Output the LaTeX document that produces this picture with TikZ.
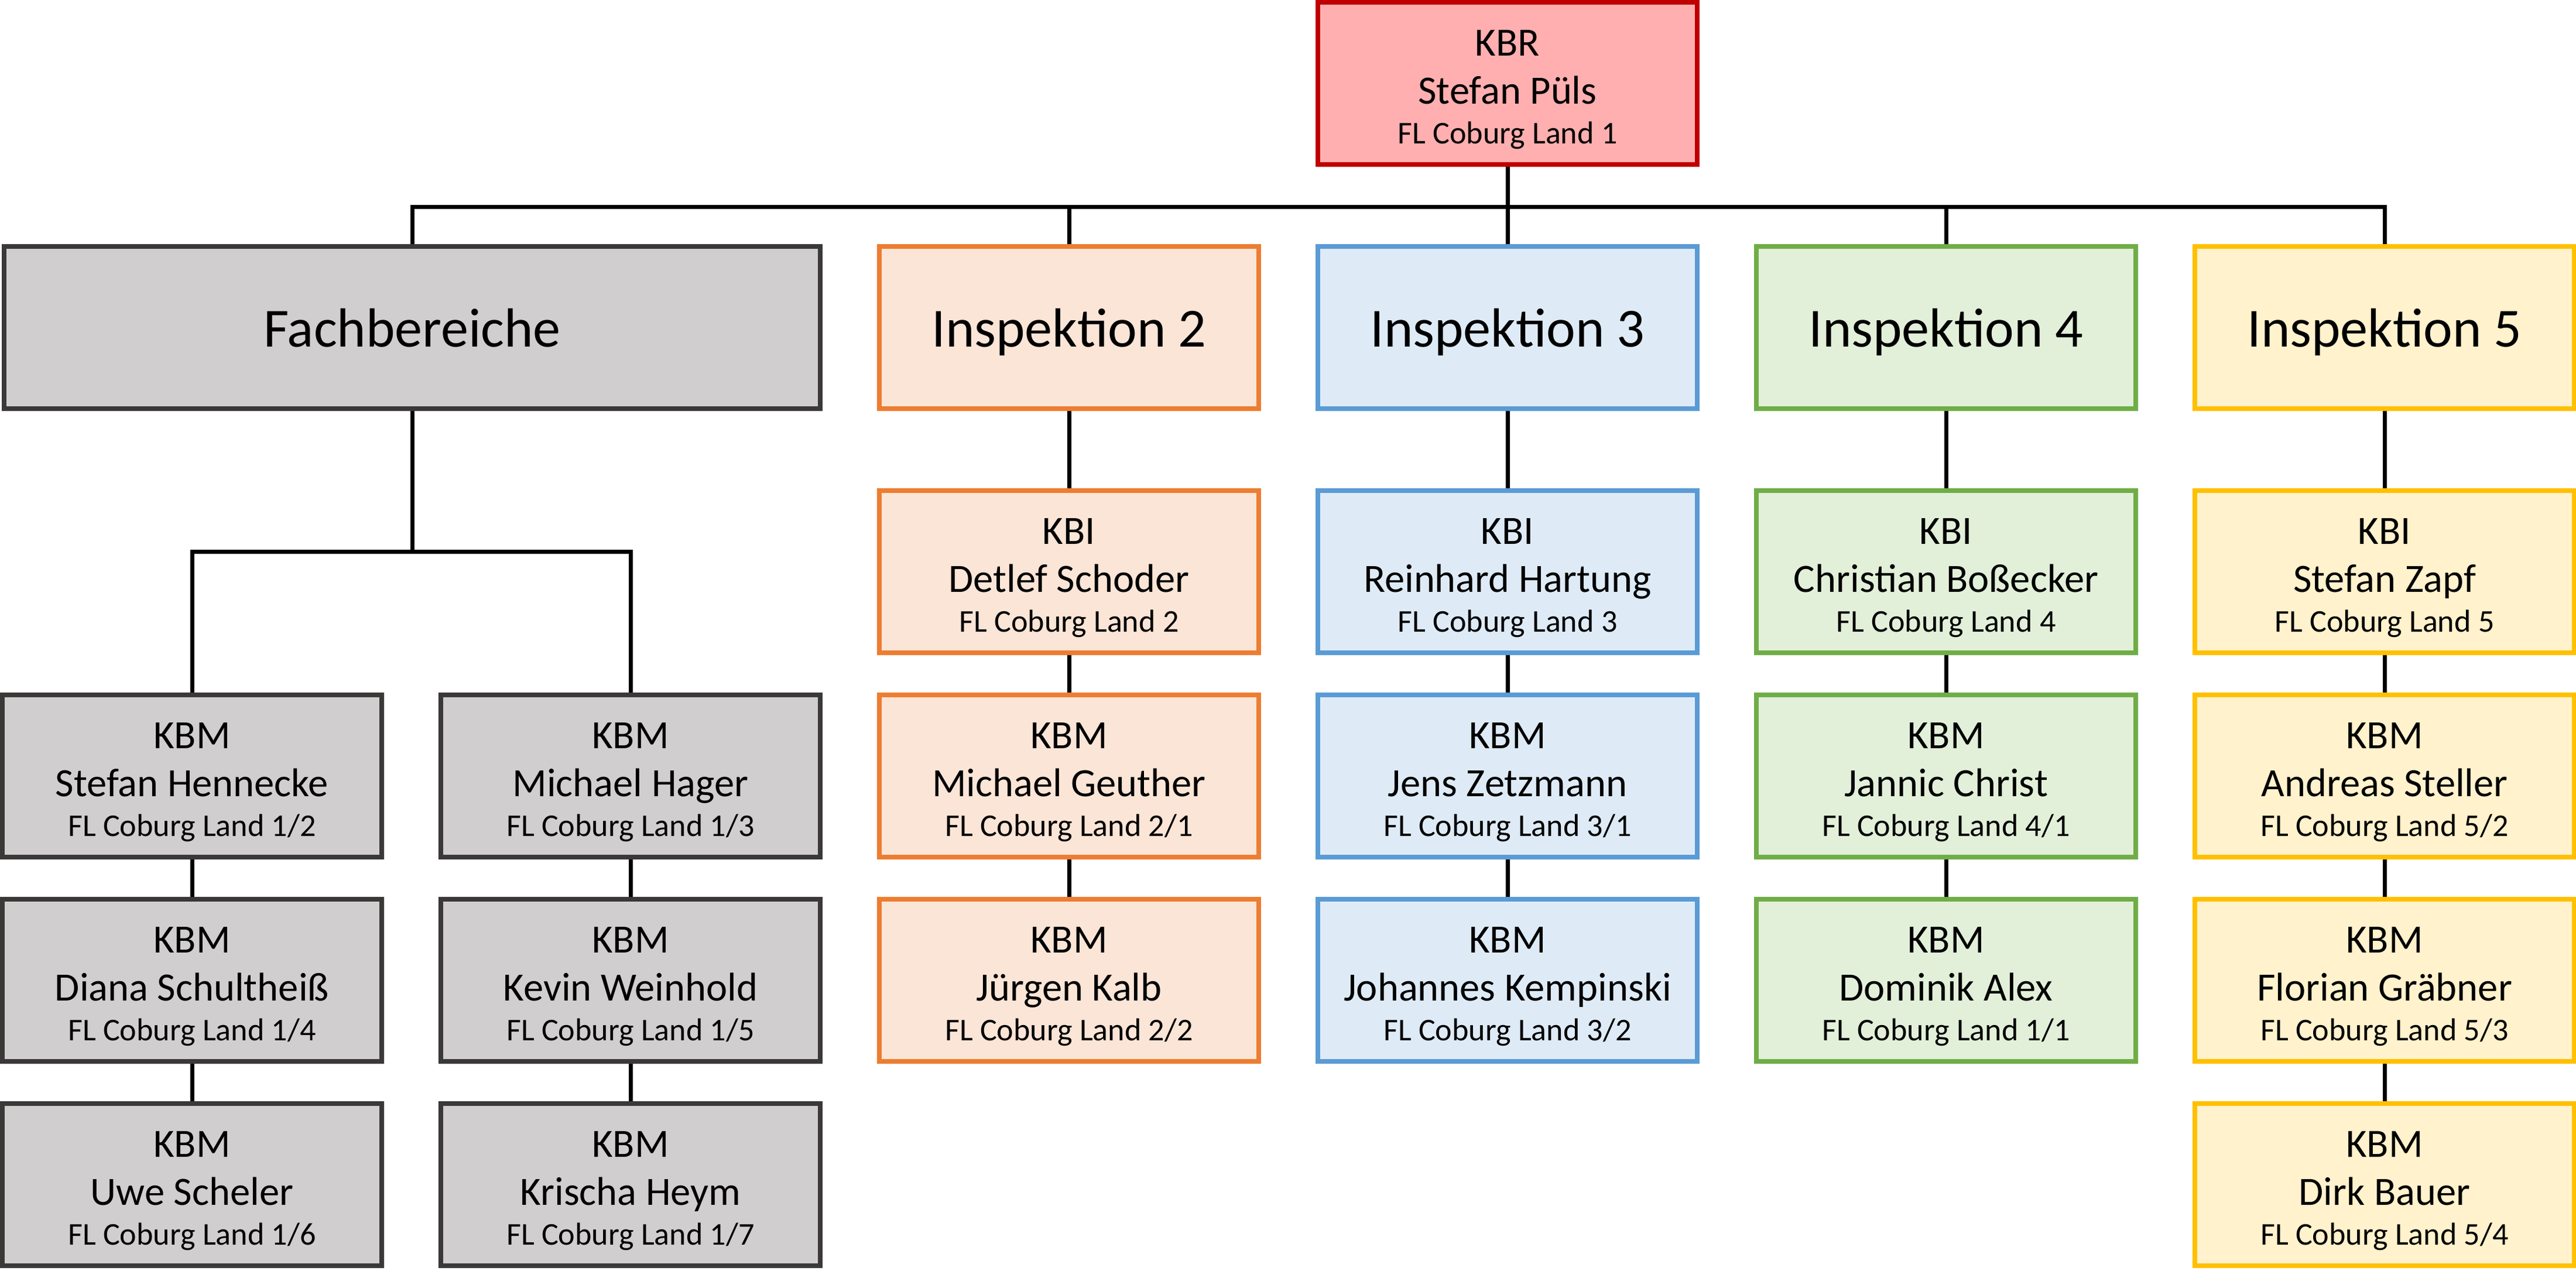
\documentclass[tikz,border=0pt]{standalone}
\usepackage{fontspec}
\setmainfont{Carlito}
\usepackage{tikz}
\usetikzlibrary{positioning, calc}
\definecolor{fachrand}{HTML}{3B3838}
\definecolor{fachfill}{HTML}{D0CECE}
\definecolor{kbrrand}{HTML}{C00000}
\definecolor{kbrfill}{HTML}{FFAFAF}
\definecolor{insZweiRand}{HTML}{ED7D31}
\definecolor{insZweiFill}{HTML}{FBE5D6}
\definecolor{insDreiRand}{HTML}{5B9BD5}
\definecolor{insDreiFill}{HTML}{DEEBF7}
\definecolor{insVierRand}{HTML}{70AD47}
\definecolor{insVierFill}{HTML}{E2F0D9}
\definecolor{insFuenfRand}{HTML}{FFC000}
\definecolor{insFuenfFill}{HTML}{FFF2CC}
\tikzset{verbindung/.style={line width=0.07cm}}
\newcommand{\person}[3]{\rule{0pt}{18.6pt}#1\\#2\\[-3.95pt]{\fontsize{15.4}{18}\selectfont #3}}

\begin{document}
\begin{tikzpicture}
    [box/.style={draw, align=center, line width=0.08cm, inner sep=0pt,
        minimum width=6.48cm, minimum height=2.77cm,
        font=\fontsize{19.5}{23.3}\selectfont},
      titel/.style={font=\fontsize{26.8}{32}\selectfont, text depth=0pt},
      fach/.style={fill=fachfill, draw=fachrand},
      kbr/.style={fill=kbrfill, draw=kbrrand},
      ins2/.style={fill=insZweiFill, draw=insZweiRand},
      ins3/.style={fill=insDreiFill, draw=insDreiRand},
      ins4/.style={fill=insVierFill, draw=insVierRand},
      ins5/.style={fill=insFuenfFill, draw=insFuenfRand},
      node distance=0.64cm and 0.93cm]

    \useasboundingbox (0,0) rectangle (44,21.7);

    \node[box, kbr] (KBR) at (25.75,20.275) {\person{KBR}{Stefan Püls}{FL Coburg Land 1}};

    \node[below=1.32cm of KBR, box, ins3, titel] (I3) {Inspektion 3};
    \node[left=of I3, box, ins2, titel] (I2) {Inspektion 2};
    \node[right=of I3, box, ins4, titel] (I4) {Inspektion 4};
    \node[right=of I4, box, ins5, titel] (I5) {Inspektion 5};
    \node[left=of I2, box, fach, titel, minimum width=13.94cm] (FB) {Fachbereiche};

    \node[below=1.32cm of I2, box, ins2] (K2) {\person{KBI}{Detlef Schoder}{FL Coburg Land 2}};
    \node[below=of K2, box, ins2] (M21) {\person{KBM}{Michael Geuther}{FL Coburg Land 2/1}};
    \node[below=of M21, box, ins2] (M22) {\person{KBM}{Jürgen Kalb}{FL Coburg Land 2/2}};

    \node[below=1.32cm of I3, box, ins3] (K3) {\person{KBI}{Reinhard Hartung}{FL Coburg Land 3}};
    \node[below=of K3, box, ins3] (M31) {\person{KBM}{Jens Zetzmann}{FL Coburg Land 3/1}};
    \node[below=of M31, box, ins3] (M32) {\person{KBM}{Johannes Kempinski}{FL Coburg Land 3/2}};

    \node[below=1.32cm of I4, box, ins4] (K4) {\person{KBI}{Christian Boßecker}{FL Coburg Land 4}};
    \node[below=of K4, box, ins4] (M41) {\person{KBM}{Jannic Christ}{FL Coburg Land 4/1}};
    \node[below=of M41, box, ins4] (M42) {\person{KBM}{Dominik Alex}{FL Coburg Land 1/1}};

    \node[below=1.32cm of I5, box, ins5] (K5) {\person{KBI}{Stefan Zapf}{FL Coburg Land 5}};
    \node[below=of K5, box, ins5] (M52) {\person{KBM}{Andreas Steller}{FL Coburg Land 5/2}};
    \node[below=of M52, box, ins5] (M53) {\person{KBM}{Florian Gräbner}{FL Coburg Land 5/3}};
    \node[below=of M53, box, ins5] (M54) {\person{KBM}{Dirk Bauer}{FL Coburg Land 5/4}};

    \node[left=of M21, box, fach] (F13) {\person{KBM}{Michael Hager}{FL Coburg Land 1/3}};
    \node[left=of F13, box, fach] (F12) {\person{KBM}{Stefan Hennecke}{FL Coburg Land 1/2}};
    \node[below=of F12, box, fach] (F14) {\person{KBM}{Diana Schultheiß}{FL Coburg Land 1/4}};
    \node[below=of F13, box, fach] (F15) {\person{KBM}{Kevin Weinhold}{FL Coburg Land 1/5}};
    \node[below=of F14, box, fach] (F16) {\person{KBM}{Uwe Scheler}{FL Coburg Land 1/6}};
    \node[below=of F15, box, fach] (F17) {\person{KBM}{Krischa Heym}{FL Coburg Land 1/7}};

    % obere Ebene
    \coordinate (bus) at ($(I3.north)+(0,0.63)$);
    \draw[verbindung] (KBR) -- (I3);
    \draw[verbindung] (FB.north) |- (bus) -| (I5.north);
    \draw[verbindung] (I2.north) -- (I2.north |- bus);
    \draw[verbindung] (I4.north) -- (I4.north |- bus);

    % Fachbereiche
    \coordinate (gabel) at ($(FB.south)!0.5!(FB.south |- F12.north)$);
    \draw[verbindung] (FB.south) -- (gabel);
    \draw[verbindung] (F12.north) |- (gabel) -| (F13.north);
    \draw[verbindung] (F12) -- (F14);
    \draw[verbindung] (F14) -- (F16);
    \draw[verbindung] (F13) -- (F15);
    \draw[verbindung] (F15) -- (F17);

    % Inspektionen
    \draw[verbindung] (I2) -- (K2);
    \draw[verbindung] (K2) -- (M21);
    \draw[verbindung] (M21) -- (M22);
    \draw[verbindung] (I3) -- (K3);
    \draw[verbindung] (K3) -- (M31);
    \draw[verbindung] (M31) -- (M32);
    \draw[verbindung] (I4) -- (K4);
    \draw[verbindung] (K4) -- (M41);
    \draw[verbindung] (M41) -- (M42);
    \draw[verbindung] (I5) -- (K5);
    \draw[verbindung] (K5) -- (M52);
    \draw[verbindung] (M52) -- (M53);
    \draw[verbindung] (M53) -- (M54);
\end{tikzpicture}
\end{document}
